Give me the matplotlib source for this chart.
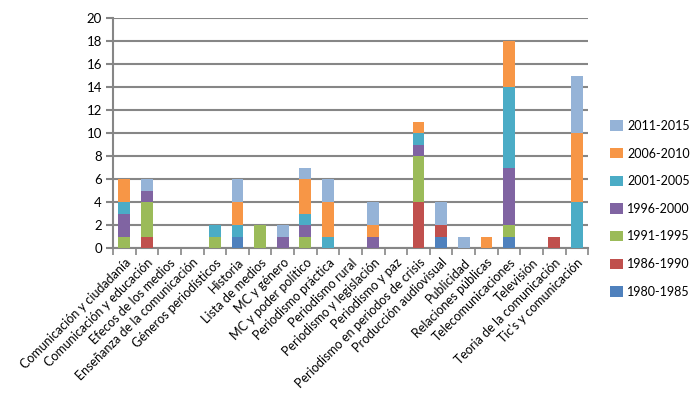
import matplotlib
matplotlib.use('Agg')
import matplotlib.pyplot as plt
import numpy as np

plt.rcParams['font.family'] = ['Lato', 'DejaVu Sans']

temas = ['Comunicación y ciudadanía', 'Comunicación y educación', 'Efecos de los medios',
         'Enseñanza de la comunicación', 'Géneros periodísticos', 'Historia', 'Lista de medios',
         'MC y género', 'MC y poder político', 'Periodismo práctica', 'Periodismo rural',
         'Periodismo y legislación', 'Periodismo y paz', 'Periodismo en periodos de crisis',
         'Producción audiovisual', 'Publicidad', 'Relaciones públicas', 'Telecomunicaciones',
         'Televisión', 'Teoria de la comunicación', "Tic's y comunicación"]

periodos = ['1980-1985', '1986-1990', '1991-1995', '1996-2000', '2001-2005', '2006-2010', '2011-2015']
colores = ['#4F81BD', '#C0504D', '#9BBB59', '#8064A2', '#4BACC6', '#F79646', '#95B3D7']

p1980 = [0, 0, 0, 0, 0, 1, 0, 0, 0, 0, 0, 0, 0, 0, 1, 0, 0, 1, 0, 0, 0]
p1986 = [0, 1, 0, 0, 0, 0, 0, 0, 0, 0, 0, 0, 0, 4, 1, 0, 0, 0, 0, 1, 0]
p1991 = [1, 3, 0, 0, 1, 0, 2, 0, 1, 0, 0, 0, 0, 4, 0, 0, 0, 1, 0, 0, 0]
p1996 = [2, 1, 0, 0, 0, 0, 0, 1, 1, 0, 0, 1, 0, 1, 0, 0, 0, 5, 0, 0, 0]
p2001 = [1, 0, 0, 0, 1, 1, 0, 0, 1, 1, 0, 0, 0, 1, 0, 0, 0, 7, 0, 0, 4]
p2006 = [2, 0, 0, 0, 0, 2, 0, 0, 3, 3, 0, 1, 0, 1, 0, 0, 1, 4, 0, 0, 6]
p2011 = [0, 1, 0, 0, 0, 2, 0, 1, 1, 2, 0, 2, 0, 0, 2, 1, 0, 0, 0, 0, 5]

series = [p1980, p1986, p1991, p1996, p2001, p2006, p2011]

fig = plt.figure(figsize=(7, 3.99), dpi=100)
ax = fig.add_axes([0.1614, 0.378, 0.679, 0.576])

x = np.arange(len(temas))
base = np.zeros(len(temas))
handles = []
for vals, lab, col in zip(series, periodos, colores):
    b = ax.bar(x, vals, 0.52, bottom=base, color=col, label=lab, zorder=3)
    handles.append(b)
    base += np.array(vals)

ax.set_xlim(-0.5, len(temas) - 0.5)
ax.set_ylim(0, 20)
ax.set_yticks(np.arange(0, 21, 2))
ax.yaxis.grid(True, color='#868686', linewidth=1.5, zorder=0)
ax.set_axisbelow(True)

for s in ['top', 'right']:
    ax.spines[s].set_visible(False)
for s in ['left', 'bottom']:
    ax.spines[s].set_color('#868686')
    ax.spines[s].set_linewidth(1.5)

ax.set_xticks(x)
ax.set_xticklabels(temas, rotation=45, ha='right', rotation_mode='anchor', fontsize=9)
ax.set_xticks(np.arange(-0.5, len(temas)), minor=True)
ax.tick_params(axis='x', which='major', length=0, pad=6)
ax.tick_params(axis='x', which='minor', length=5, color='#868686', width=1.2)
ax.tick_params(axis='y', length=5, color='#868686', width=1.5, labelsize=9.5, pad=3)

fig.legend(handles[::-1], periodos[::-1], loc='upper left', bbox_to_anchor=(0.862, 0.715),
           frameon=False, fontsize=9, labelspacing=1.25, handlelength=1.1, handleheight=0.9,
           handletextpad=0.3, borderpad=0)

fig.savefig('out.png', dpi=100)
